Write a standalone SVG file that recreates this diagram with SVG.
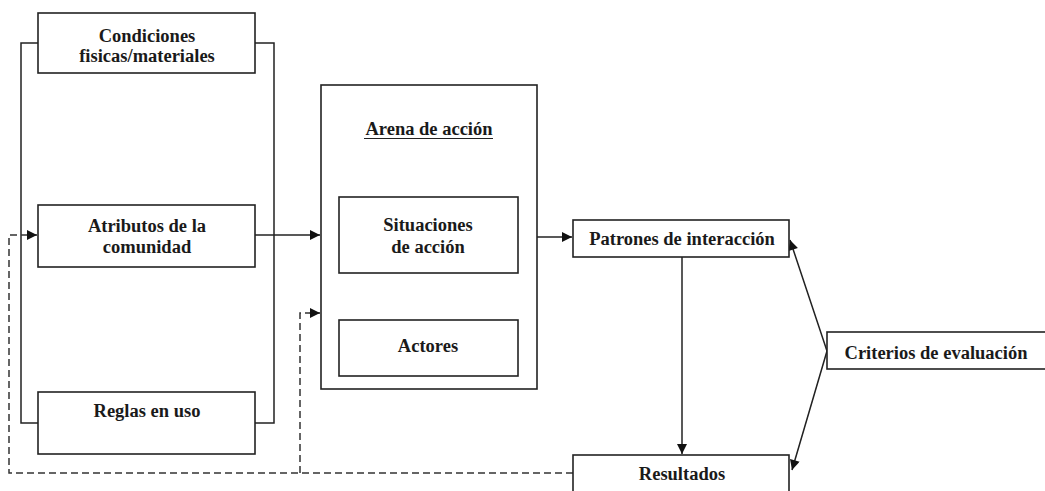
<svg xmlns="http://www.w3.org/2000/svg" width="1045" height="491" viewBox="0 0 1045 491">
<style>
.box{fill:#fff;stroke:#222;stroke-width:1.6}
.ln{fill:none;stroke:#222;stroke-width:1.5}
.dash{fill:none;stroke:#333;stroke-width:1.5;stroke-dasharray:7 4}
.t{font-family:'Liberation Serif','Times New Roman',serif;font-size:18.5px;font-weight:bold;fill:#1a1a1a;text-anchor:middle}
</style>
<defs>
<marker id="ah" viewBox="0 0 10 10" refX="10" refY="5" markerWidth="11" markerHeight="10" markerUnits="userSpaceOnUse" orient="auto">
<path d="M0,0 L10,5 L0,10 z" fill="#111"/>
</marker>
</defs>
<rect width="1045" height="491" fill="#fff"/>
<g id="connectors">
<path class="ln" d="M38,43 H21 V423 H38"/>
<path class="ln" d="M255,43 H274 V423 H255"/>
<path class="ln" d="M255,235 H320" marker-end="url(#ah)"/>
<path class="ln" d="M537,237 H572" marker-end="url(#ah)"/>
<path class="ln" d="M682,257 V454" marker-end="url(#ah)"/>
<path class="ln" d="M827,351 L790,240" marker-end="url(#ah)"/>
<path class="ln" d="M827,351 L792,470" marker-end="url(#ah)"/>
<path class="dash" d="M573,473 H9 V235 H27"/>
<path class="ln" d="M27,235 H37" marker-end="url(#ah)"/>
<path class="dash" d="M300,473 V313 H309"/>
<path class="ln" d="M309,313 H320" marker-end="url(#ah)"/>
</g>
<g id="condiciones">
<rect class="box" x="38" y="13" width="217" height="60"/>
<text class="t" x="147" y="42">Condiciones</text>
<text class="t" x="147" y="62">fisicas/materiales</text>
</g>
<g id="atributos">
<rect class="box" x="38" y="205" width="217" height="62"/>
<text class="t" x="147" y="232">Atributos de la</text>
<text class="t" x="147" y="253">comunidad</text>
</g>
<g id="reglas">
<rect class="box" x="38" y="392" width="217" height="62"/>
<text class="t" x="147" y="417">Reglas en uso</text>
</g>
<g id="arena">
<rect class="box" x="321" y="85" width="216" height="304"/>
<text class="t" x="429" y="135">Arena de acción</text>
<line x1="364" y1="138.5" x2="493" y2="138.5" stroke="#222" stroke-width="1.2"/>
</g>
<g id="situaciones">
<rect class="box" x="339" y="197" width="179" height="76"/>
<text class="t" x="428" y="231">Situaciones</text>
<text class="t" x="428" y="253">de acción</text>
</g>
<g id="actores">
<rect class="box" x="339" y="320" width="179" height="56"/>
<text class="t" x="428" y="352">Actores</text>
</g>
<g id="patrones">
<rect class="box" x="573" y="220" width="216" height="37"/>
<text class="t" x="682" y="245">Patrones de interacción</text>
</g>
<g id="resultados">
<rect class="box" x="573" y="455" width="216" height="45"/>
<text class="t" x="682" y="480">Resultados</text>
</g>
<g id="criterios">
<rect class="box" x="827" y="332" width="225" height="37"/>
<text class="t" x="936" y="359">Criterios de evaluación</text>
</g>
</svg>
